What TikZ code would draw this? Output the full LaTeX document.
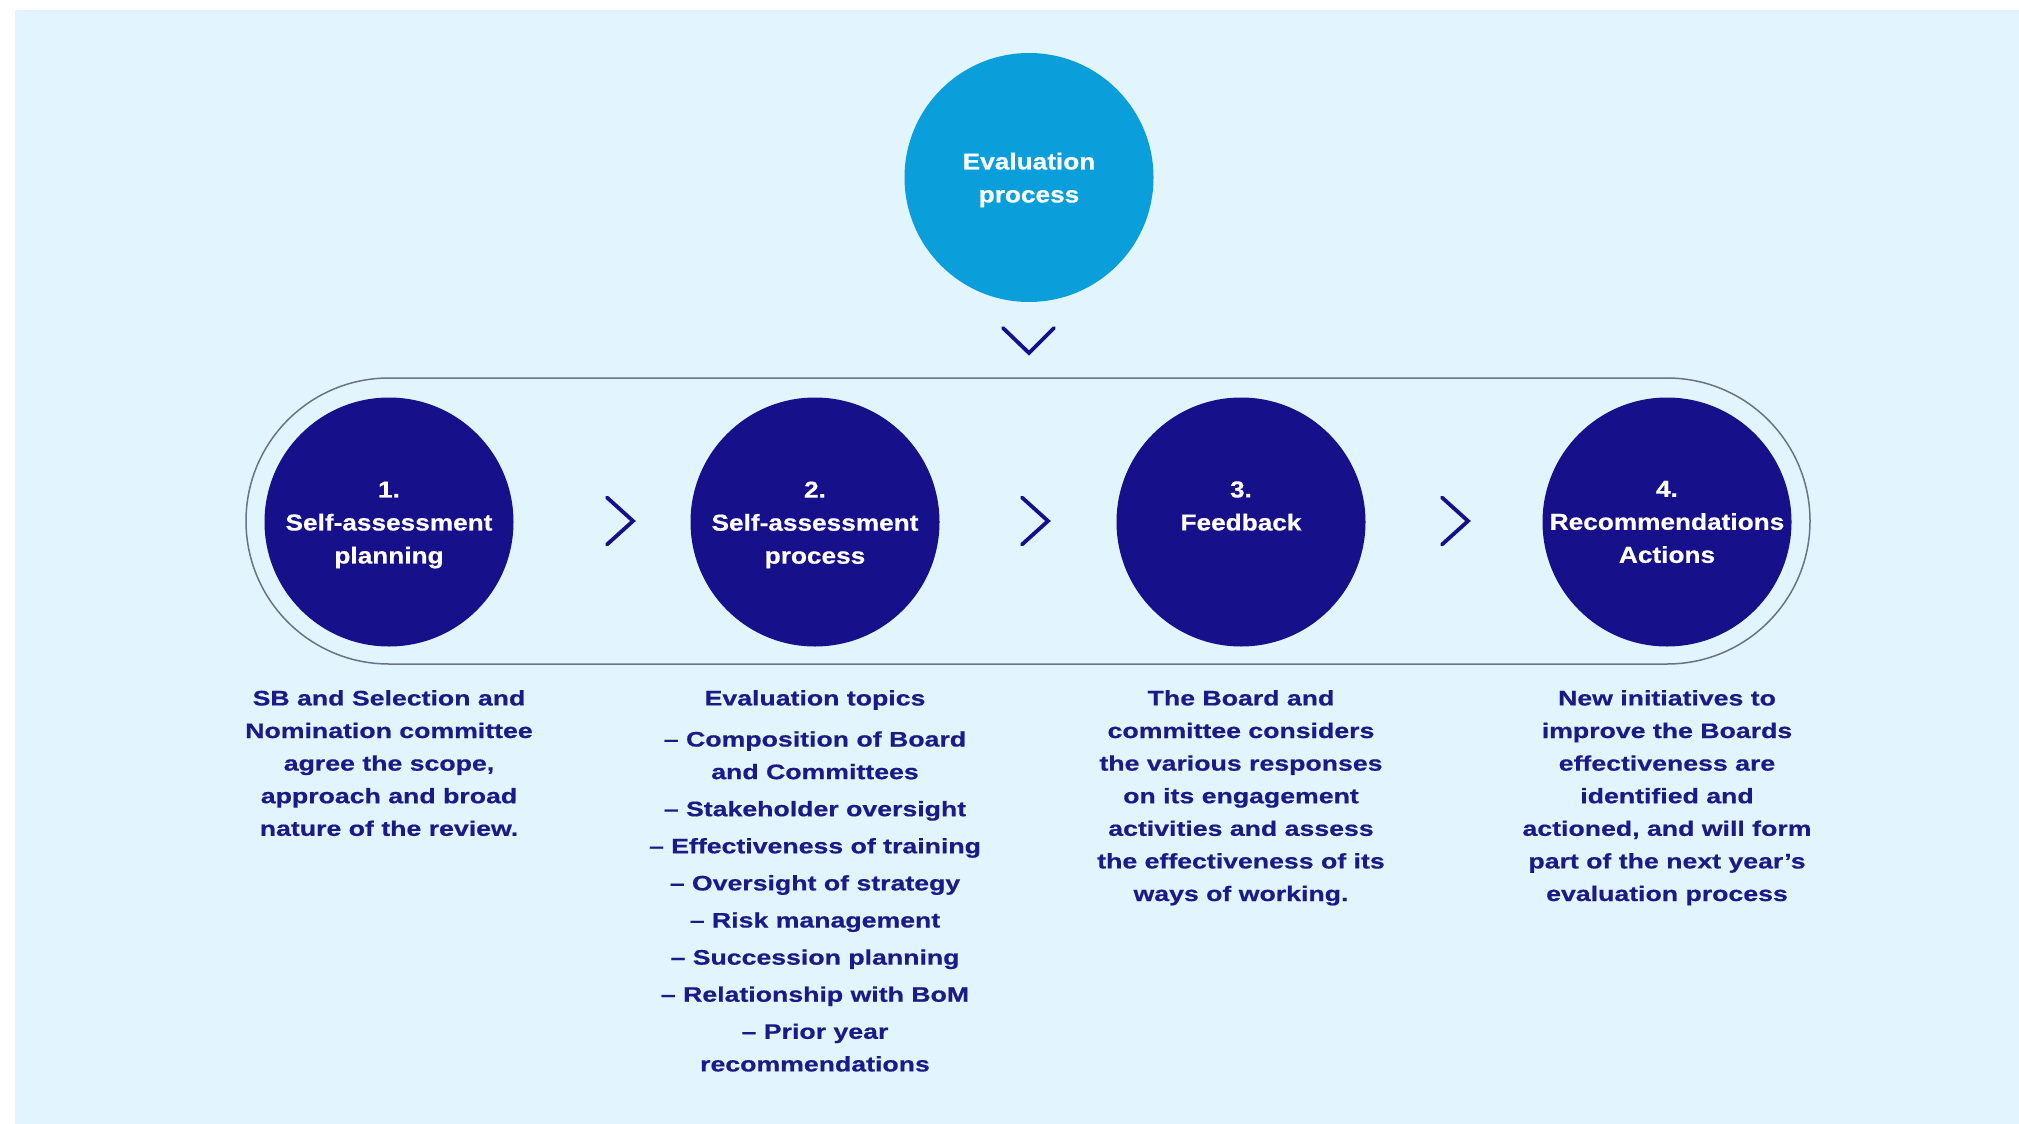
\documentclass[tikz,border=0pt]{standalone}
\usepackage{fontspec}
\newfontfamily\circfont[FakeStretch=1.14,FakeBold=0.6]{Liberation Sans}
\newfontfamily\bodyfont[FakeStretch=1.27,FakeBold=0.6]{Liberation Sans}
\definecolor{bgblue}{RGB}{226,244,254}
\definecolor{navy}{RGB}{22,16,138}
\definecolor{txtnavy}{RGB}{28,26,136}
\definecolor{skyblue}{RGB}{10,158,219}
\definecolor{outline}{RGB}{105,115,135}
\tikzset{
  stepcirc/.style={circle, fill=navy, minimum size=249pt, inner sep=0pt},
  topcirc/.style={stepcirc, fill=skyblue},
  circtext/.style={inner sep=0pt, text=white, align=center,
    font={\circfont\bfseries\fontsize{23}{33}\selectfont}},
  bodytext/.style={anchor=north, inner sep=0pt, text=txtnavy, align=center,
    font={\bodyfont\bfseries\fontsize{21}{32.6}\selectfont}},
  chev/.style={draw=navy, line width=3.8pt, line cap=round, line join=miter},
  stadium/.style={draw=outline, line width=1.5pt}
}
\begin{document}
\begin{tikzpicture}[x=1pt,y=-1pt]
\useasboundingbox (0,0) rectangle (2019,1124);
\fill[bgblue] (15,10) rectangle (2019,1124);
% outline around the four steps
\draw[stadium, rounded corners=143pt] (246,378) rectangle (1810,664);
% top circle
\node[topcirc, label={[circtext, yshift=-2.5pt]center:{Evaluation\\process}}] (top) at (1029,177.5) {};
\coordinate (vdown) at (1029,353);
\draw[chev] (vdown) ++(-26,-25) -- (vdown) -- ++(25,-25);
% steps
\node[stepcirc, label={[circtext, yshift=-3pt]center:{1.\\Self-assessment\\planning}}] (c1) at (389,522) {};
\node[stepcirc, label={[circtext, yshift=-3pt]center:{2.\\Self-assessment\\process}}] (c2) at (815,522) {};
\node[stepcirc, label={[circtext, yshift=16pt]center:{3.\\Feedback}}] (c3) at (1241,522) {};
\node[stepcirc, label={[circtext, yshift=0pt]center:{4.\\Recommendations\\Actions}}] (c4) at (1667,522) {};
% chevrons
\coordinate (v1) at (633,521);
\coordinate (v2) at (1048,521);
\coordinate (v3) at (1468,521);
\foreach \v in {v1,v2,v3}{
  \draw[chev] (\v) ++(-26,-23.5) -- (\v) -- ++(-26,23.5);
}
% texts
\node[bodytext] (t1) at (389,690) {SB and Selection and\\Nomination committee\\agree the scope,\\approach and broad\\nature of the review.};
\node[bodytext] (t2) at (815,690) {Evaluation topics\\[8.5pt]
– Composition of Board\\and Committees\\[4.5pt]
– Stakeholder oversight\\[4.5pt]
– Effectiveness of training\\[4.5pt]
– Oversight of strategy\\[4.5pt]
– Risk management\\[4.5pt]
– Succession planning\\[4.5pt]
– Relationship with BoM\\[4.5pt]
– Prior year\\recommendations};
\node[bodytext] (t3) at (1241,690) {The Board and\\committee considers\\the various responses\\on its engagement\\activities and assess\\the effectiveness of its\\ways of working.};
\node[bodytext] (t4) at (1667,690) {New initiatives to\\improve the Boards\\effectiveness are\\identified and\\actioned, and will form\\part of the next year’s\\evaluation process};
\end{tikzpicture}
\end{document}
